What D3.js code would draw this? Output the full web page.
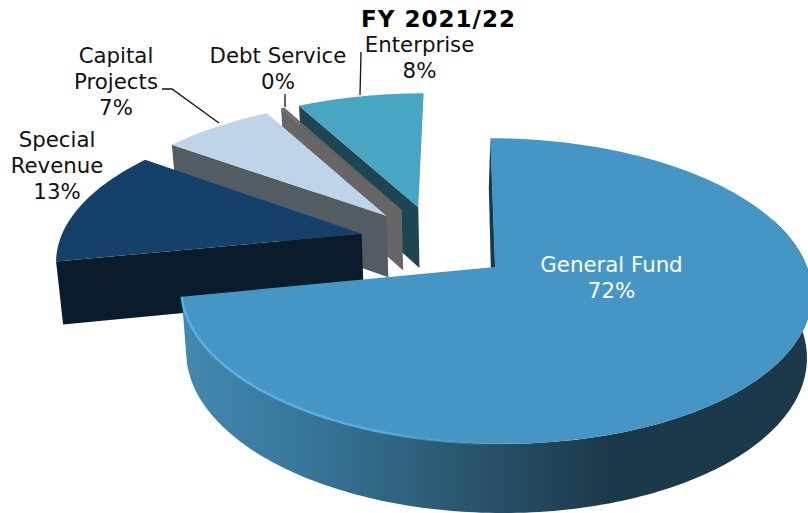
<!DOCTYPE html>
<html>
<head>
<meta charset="utf-8">
<script src="https://cdn.jsdelivr.net/npm/d3@7"></script>
<style>
  html, body { margin: 0; padding: 0; background: #fff; overflow: hidden; }
  svg { display: block; }
  text { font-family: "DejaVu Sans", sans-serif; }
</style>
</head>
<body>
<div id="chart"></div>
<script>
// Fund shares for the year, in percent
const chartTitle = "FY 2021/22";
const categories = ["General Fund", "Special Revenue", "Capital Projects", "Debt Service", "Enterprise"];
const shares = [72, 13, 7, 0.2, 8];
const shareLabels = ["72%", "13%", "7%", "0%", "8%"];

const width = 808, height = 513;

// Perspective of the tilted disc
const view = { ox: 495, oy: 267, A: 311.5, B: 149, k: 0.157, m: -0.005, shear: 3, drop: 63, dropK: 0.09, converge: 0.016 };

// How far each wedge is pulled out from the disc centre, in radii (right, back)
const explode = [[0, 0], [-0.444, 0.222], [-0.368, 0.354], [-0.319, 0.403], [-0.263, 0.422]];
const topFill = ["#4596c4", "#15406a", "#bfd3e9", "#676565", "#48a6c3"];
const cutFill = ["#173b4e", "#0a1b2b", "#535b63", "#676565", "#1d4652"];

const TAU = 2 * Math.PI;
const startAngle = -1 / 360 * TAU;
const arcs = d3.pie().sort(null).startAngle(startAngle).endAngle(startAngle + TAU)(shares);

function project(u, v, lower) {
  const w = 1 + view.k * v + view.m * u;
  let x = view.ox + view.A * u / w;
  let y = view.oy + (-view.B * v + view.shear * u) / w;
  if (lower) {
    x -= (x - view.ox) * view.converge;
    y += view.drop / (1 + view.dropK * v);
  }
  return [x, y];
}

// A point on the rim of wedge i at angle t, or its centre when t is null
function rimPoint(i, t, lower) {
  const [du, dv] = explode[i];
  if (t === null) return project(du, dv, lower);
  return project(du + Math.sin(t), dv + Math.cos(t), lower);
}

function rimSamples(a, b) {
  const n = Math.max(2, Math.ceil(Math.abs(b - a) / 0.02));
  const s = d3.scaleLinear().domain([0, n]).range([a, b]);
  return d3.range(n + 1).map(s);
}

const line = d3.line();

const svg = d3.select("#chart").append("svg")
  .attr("width", width).attr("height", height).attr("viewBox", [0, 0, width, height]);

const defs = svg.append("defs");

// Light falling off to the right along the outer wall of the large wedge
defs.append("linearGradient")
  .attr("id", "wallShade").attr("gradientUnits", "userSpaceOnUse")
  .attr("x1", 183).attr("x2", 808).attr("y1", 0).attr("y2", 0)
  .selectAll("stop")
  .data([[0, "#4388ae"], [0.2, "#37769a"], [0.35, "#2f637f"], [0.5, "#264f66"], [0.68, "#1c394c"], [1, "#1c394c"]])
  .join("stop")
  .attr("offset", d => d[0])
  .attr("stop-color", d => d[1]);

defs.append("linearGradient")
  .attr("id", "rimShade").attr("gradientUnits", "userSpaceOnUse")
  .attr("x1", 183).attr("x2", 520).attr("y1", 0).attr("y2", 0)
  .selectAll("stop")
  .data([[0, "#58b2e4", 1], [0.6, "#55ade0", 0.9], [1, "#4596c4", 0]])
  .join("stop")
  .attr("offset", d => d[0])
  .attr("stop-color", d => d[1])
  .attr("stop-opacity", d => d[2]);

// Wedges are painted back to front: the far ones first, the large one last
[4, 3, 2, 1, 0].forEach(i => {
  const a = arcs[i];
  const g = svg.append("g").attr("class", "wedge");

  // Cut face on the side that looks toward the viewer
  g.append("path")
    .attr("fill", cutFill[i])
    .attr("d", line([
      rimPoint(i, a.startAngle, false), rimPoint(i, null, false),
      rimPoint(i, null, true), rimPoint(i, a.startAngle, true)
    ]) + "Z");

  if (i === 0) {
    // Thin sliver of the far cut, seen just past the straight edge
    const top = rimPoint(0, a.startAngle, false);
    const apex = rimPoint(0, null, false);
    g.append("path")
      .attr("fill", cutFill[0])
      .attr("d", line([top, apex, [apex[0] - 4, apex[1] + 8], [top[0] - 1.5, top[1] + 50]]) + "Z");

    // Outer wall
    const ts = rimSamples(70 / 360 * TAU, a.endAngle);
    const upper = ts.map(t => rimPoint(0, t, false));
    const lower = ts.map(t => rimPoint(0, t, true)).reverse();
    g.append("path")
      .attr("fill", "url(#wallShade)")
      .attr("d", line(upper.concat(lower)) + "Z");
  }

  // Top face
  const rim = rimSamples(a.startAngle, a.endAngle).map(t => rimPoint(i, t, false));
  g.append("path")
    .attr("fill", topFill[i])
    .attr("d", line([rimPoint(i, null, false)].concat(rim)) + "Z");

  if (i === 0) {
    // Bright bevel along the near rim
    const lit = rimSamples(a.endAngle, 175 / 360 * TAU).map(t => rimPoint(0, t, false));
    g.append("path")
      .attr("fill", "none")
      .attr("stroke", "url(#rimShade)")
      .attr("stroke-width", 2.5)
      .attr("d", line(lit));
  }
});

// Leader lines
const leaders = [
  [[162, 89], [172, 89], [219, 123]],
  [[285, 94], [285, 107]],
  [[361, 52], [360, 95]]
];
svg.append("g").selectAll("path").data(leaders).join("path")
  .attr("fill", "none").attr("stroke", "#111").attr("stroke-width", 1.3)
  .attr("d", d => line(d));

// Labels: wrapped name lines followed by the share
const labelLines = [
  { i: 0, x: 611.5, y: 272, lines: ["General Fund"], fill: "#fff" },
  { i: 1, x: 57, y: 147, lines: ["Special", "Revenue"], fill: "#111" },
  { i: 2, x: 116, y: 63, lines: ["Capital", "Projects"], fill: "#111" },
  { i: 3, x: 278, y: 63, lines: ["Debt Service"], fill: "#111" },
  { i: 4, x: 419.5, y: 52, lines: ["Enterprise"], fill: "#111" }
];
const labelGroups = svg.append("g").selectAll("text").data(labelLines).join("text")
  .attr("text-anchor", "middle")
  .attr("font-size", 21.3)
  .attr("fill", d => d.fill);
labelGroups.selectAll("tspan")
  .data(d => d.lines.concat(shareLabels[d.i]).map((s, n) => ({ s, n, x: d.x, y: d.y })))
  .join("tspan")
  .attr("x", d => d.x)
  .attr("y", d => d.y + d.n * 26)
  .text(d => d.s);

svg.append("text")
  .attr("x", 438.5).attr("y", 26.5)
  .attr("text-anchor", "middle")
  .attr("font-size", 23)
  .attr("letter-spacing", 1)
  .attr("font-weight", "bold")
  .attr("fill", "#000")
  .text(chartTitle);
</script>
</body>
</html>
